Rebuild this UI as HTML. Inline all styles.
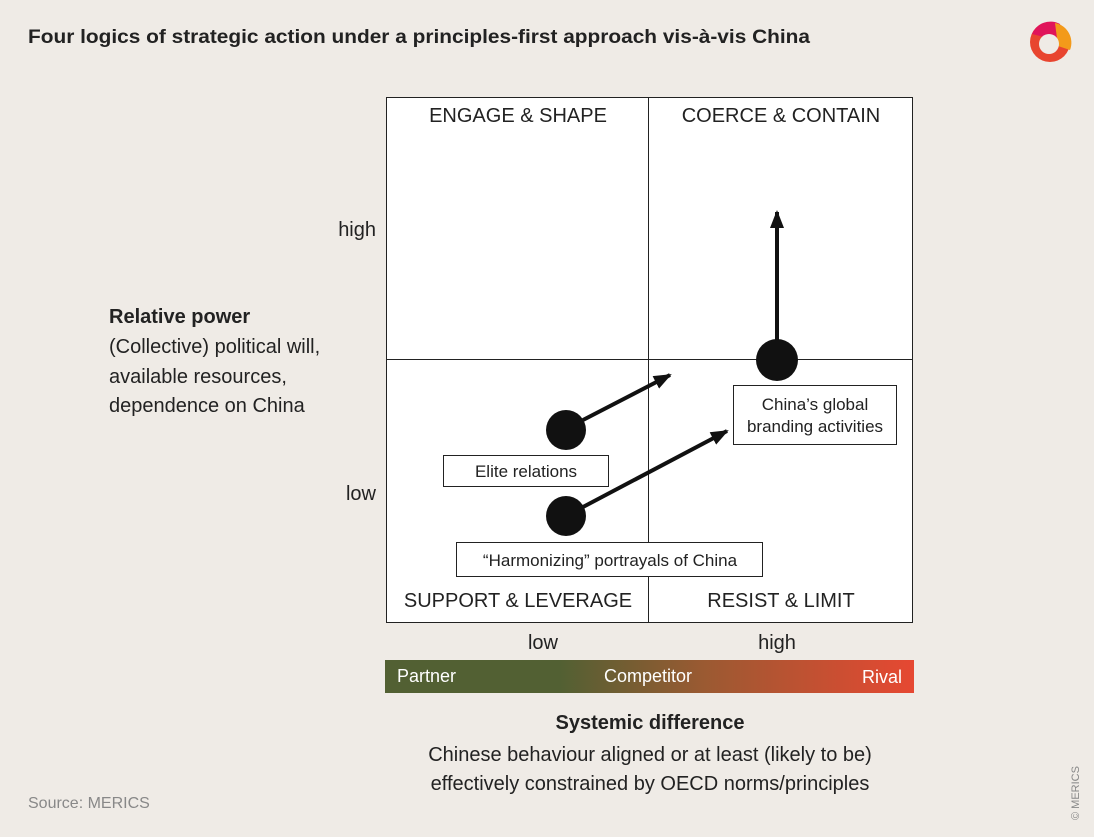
<!DOCTYPE html>
<html><head><meta charset="utf-8"><style>
body{margin:0;background:#efebe6;}
svg{display:block;font-family:"Liberation Sans",sans-serif;}
</style></head><body>
<svg width="1094" height="837" viewBox="0 0 1094 837" xmlns="http://www.w3.org/2000/svg">
<defs>
<linearGradient id="g" x1="385" x2="914" y1="0" y2="0" gradientUnits="userSpaceOnUse">
<stop offset="0" stop-color="#526033"/><stop offset="0.33" stop-color="#526033"/><stop offset="0.6" stop-color="#9a5a32"/><stop offset="1" stop-color="#e64832"/></linearGradient>
<marker id="a" markerWidth="18" markerHeight="16" refX="16" refY="8" orient="auto" markerUnits="userSpaceOnUse" viewBox="0 0 18 16"><path d="M0,1 L18,8 L0,15z" fill="#111"/></marker>
<marker id="b" markerWidth="18" markerHeight="18" refX="16" refY="9" orient="auto" markerUnits="userSpaceOnUse" viewBox="0 0 18 18"><path d="M0,2 L18,9 L0,16z" fill="#111"/></marker>
</defs>
<rect width="1094" height="837" fill="#efebe6"/>
<text x="28" y="43" font-size="19" font-weight="bold" fill="#222" textLength="782" lengthAdjust="spacingAndGlyphs">Four logics of strategic action under a principles-first approach vis-à-vis China</text>
<g transform="translate(1050,42)">
<circle r="20" fill="#e8452f"/><path d="M-18,-8 A20,20 0 0 1 10,-18 L14,0z" fill="#e0145a"/><path d="M5,-19 A20,20 0 0 1 20,8 L8,4z" fill="#f39a1a"/><circle cx="-1" cy="2" r="10" fill="#efebe6"/></g>
<rect x="386.5" y="97.5" width="526" height="525" fill="#fff" stroke="#222" stroke-width="1"/>
<line x1="648.5" y1="97" x2="648.5" y2="622" stroke="#222"/>
<line x1="386" y1="359.5" x2="912" y2="359.5" stroke="#222"/>
<g font-size="20" fill="#222" text-anchor="middle">
<text x="518" y="122">ENGAGE &amp; SHAPE</text>
<text x="781" y="122">COERCE &amp; CONTAIN</text>
<text x="518" y="607">SUPPORT &amp; LEVERAGE</text>
<text x="781" y="607">RESIST &amp; LIMIT</text>
<text x="543" y="649">low</text>
<text x="777" y="649">high</text>
</g>
<g font-size="20" fill="#222" text-anchor="end">
<text x="376" y="236">high</text><text x="376" y="500">low</text></g>
<line x1="583" y1="420" x2="670" y2="375" stroke="#111" stroke-width="4" marker-end="url(#a)"/>
<line x1="583" y1="507" x2="727" y2="431" stroke="#111" stroke-width="4" marker-end="url(#a)"/>
<line x1="777" y1="345" x2="777" y2="212" stroke="#111" stroke-width="4" marker-end="url(#b)"/>
<circle cx="566" cy="430" r="20" fill="#111"/>
<circle cx="566" cy="516" r="20" fill="#111"/>
<circle cx="777" cy="360" r="21" fill="#111"/>
<g font-size="17" fill="#222" text-anchor="middle">
<rect x="443.5" y="455.5" width="165" height="31" fill="#fff" stroke="#222"/><text x="526" y="477">Elite relations</text>
<rect x="456.5" y="542.5" width="306" height="34" fill="#fff" stroke="#222"/><text x="610" y="566">“Harmonizing” portrayals of China</text>
<rect x="733.5" y="385.5" width="163" height="59" fill="#fff" stroke="#222"/><text x="815" y="410">China’s global</text><text x="815" y="432">branding activities</text>
</g>
<g font-size="20" fill="#222">
<text x="109" y="323" font-weight="bold">Relative power</text>
<text x="109" y="353">(Collective) political will,</text>
<text x="109" y="383">available resources,</text>
<text x="109" y="412">dependence on China</text>
</g>
<rect x="385" y="660" width="529" height="33" fill="url(#g)"/>
<g font-size="18" fill="#fff"><text x="397" y="682">Partner</text><text x="604" y="682">Competitor</text><text x="902" y="683" text-anchor="end">Rival</text></g>
<g font-size="20" fill="#222" text-anchor="middle">
<text x="650" y="729" font-weight="bold">Systemic difference</text>
<text x="650" y="761">Chinese behaviour aligned or at least (likely to be)</text>
<text x="650" y="790">effectively constrained by OECD norms/principles</text>
</g>
<text x="28" y="808" font-size="16" fill="#888">Source: MERICS</text>
<text transform="translate(1079,820) rotate(-90)" font-size="11" fill="#888">© MERICS</text>
</svg>
</body></html>
